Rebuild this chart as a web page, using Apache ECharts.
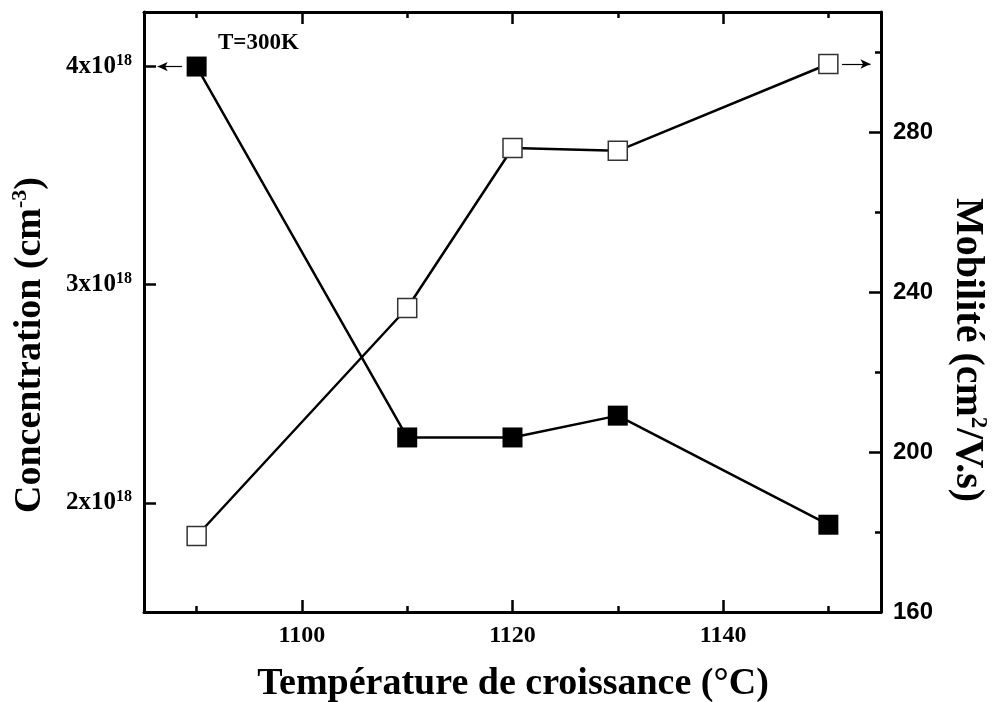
<!DOCTYPE html>
<html><head><meta charset="utf-8">
<script src="https://cdn.jsdelivr.net/npm/echarts@6/dist/echarts.min.js"></script>
<style>html,body{margin:0;padding:0;background:#fff}#c{width:994px;height:702px}</style>
</head><body><div id="c"></div>
<script>
const temps = [1090, 1110, 1120, 1130, 1150];
const concentration = [4.0, 2.30, 2.30, 2.40, 1.90];   // x10^18 cm^-3
const mobility = [179, 236, 276, 275.3, 297];          // cm^2/V.s
const xMajor = [1100, 1120, 1140];
const xMinor = [1090, 1110, 1130, 1150];
const leftTicks = [2, 3, 4];
const rightMajor = [160, 200, 240, 280];
const rightMinor = [180, 220, 260, 300];

const SERIF = '"Liberation Serif","Times New Roman",serif';
const SANS = '"Liberation Sans",Arial,sans-serif';
const chart = echarts.init(document.getElementById('c'), null, {renderer: 'canvas'});
const axisLine = {show: true, lineStyle: {color: '#000', width: 3}};
const majTick = (vals) => ({show: true, inside: true, length: 12, customValues: vals, lineStyle: {color: '#000', width: 2.5}});
const minTick = (vals) => ({show: true, inside: true, length: 6, customValues: vals, lineStyle: {color: '#000', width: 2.5}});
const xBase = {type: 'value', min: 1085, max: 1155, splitLine: {show: false}};
const hidden = {show: false};

chart.setOption({
  animation: false,
  grid: {left: 144, right: 113, top: 12, bottom: 90},
  xAxis: [
    Object.assign({}, xBase, {position: 'bottom', axisLine, axisTick: majTick(xMajor),
      axisLabel: {customValues: xMajor, formatter: v => String(v), margin: 12, color: '#000', fontFamily: SERIF, fontWeight: 'bold', fontSize: 24}}),
    Object.assign({}, xBase, {position: 'bottom', axisLine: hidden, axisTick: minTick(xMinor), axisLabel: hidden}),
    Object.assign({}, xBase, {position: 'top', axisLine, axisTick: majTick(xMajor), axisLabel: hidden}),
    Object.assign({}, xBase, {position: 'top', axisLine: hidden, axisTick: minTick(xMinor), axisLabel: hidden})
  ],
  yAxis: [
    {type: 'value', position: 'left', min: 1.5, max: 4.25, splitLine: {show: false}, axisLine,
      axisTick: majTick(leftTicks),
      axisLabel: {customValues: leftTicks, margin: 12, color: '#000',
        formatter: v => '{b|' + v + 'x10}{s|18}',
        rich: {
          b: {fontFamily: SERIF, fontWeight: 'bold', fontSize: 25, color: '#000'},
          s: {fontFamily: SERIF, fontWeight: 'bold', fontSize: 16, color: '#000', padding: [0, 0, 12, 0]}
        }}},
    {type: 'value', position: 'right', min: 160, max: 310, splitLine: {show: false}, axisLine,
      axisTick: majTick(rightMajor),
      axisLabel: {customValues: rightMajor, margin: 12, color: '#000', fontFamily: SANS, fontWeight: 'bold', fontSize: 24}},
    {type: 'value', position: 'right', min: 160, max: 310, splitLine: {show: false}, axisLine: hidden,
      axisTick: minTick(rightMinor), axisLabel: hidden}
  ],
  series: [
    {name: 'Concentration', type: 'line', xAxisIndex: 0, yAxisIndex: 0,
      data: temps.map((t, i) => [t, concentration[i]]),
      symbol: 'rect', symbolSize: 20, lineStyle: {color: '#000', width: 2.5},
      itemStyle: {color: '#000', borderColor: '#000', borderWidth: 0},
      markLine: {silent: true, symbol: ['none', 'arrow'], symbolSize: [7, 10], label: {show: false},
        lineStyle: {color: '#000', width: 1.2, type: 'solid'},
        data: [[{coord: [1088.6, 4.0]}, {coord: [1086.3, 4.0]}]]}},
    {name: 'Mobilité', type: 'line', xAxisIndex: 0, yAxisIndex: 1,
      data: temps.map((t, i) => [t, mobility[i]]),
      symbol: 'rect', symbolSize: 19, lineStyle: {color: '#000', width: 2.5},
      itemStyle: {color: '#fff', borderColor: '#333', borderWidth: 1.5},
      markLine: {silent: true, symbol: ['none', 'arrow'], symbolSize: [7, 10], label: {show: false},
        lineStyle: {color: '#000', width: 1.2, type: 'solid'},
        data: [[{coord: [1151.3, 297]}, {coord: [1154.0, 297]}]]}}
  ],
  graphic: [
    {type: 'text', left: 218, top: 32, style: {text: 'T=300K', font: 'bold 23px ' + SERIF, fill: '#000'}},
    {type: 'text', x: 513, y: 684, style: {text: 'Température de croissance (°C)', font: 'bold 38px ' + SERIF, fill: '#000', align: 'center', verticalAlign: 'middle'}},
    {type: 'text', x: 30, y: 345, rotation: Math.PI / 2,
      style: {text: '{a|Concentration (cm}{s|-3}{a|)}', align: 'center', verticalAlign: 'middle',
        rich: {a: {font: 'bold 38px ' + SERIF, fill: '#000'}, s: {font: 'bold 22px ' + SERIF, fill: '#000', padding: [0, 0, 20, 0]}}}},
    {type: 'text', x: 967, y: 350, rotation: -Math.PI / 2,
      style: {text: '{a|Mobilité (cm}{s|2}{a|/V.s)}', align: 'center', verticalAlign: 'middle',
        rich: {a: {font: 'bold 40px ' + SERIF, fill: '#000'}, s: {font: 'bold 23px ' + SERIF, fill: '#000', padding: [0, 0, 21, 0]}}}}
  ]
});
</script></body></html>
